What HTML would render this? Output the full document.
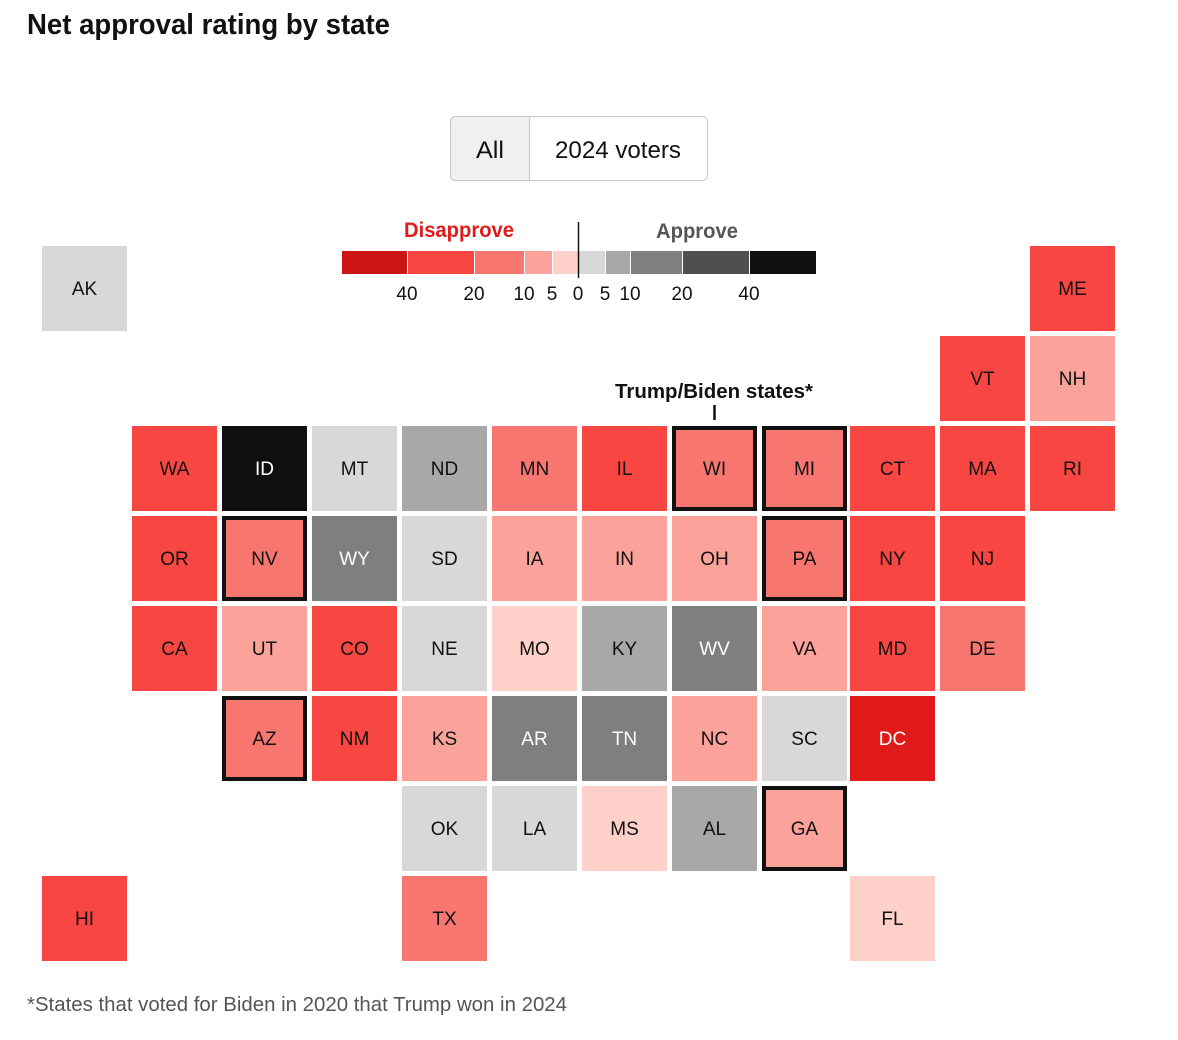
<!DOCTYPE html>
<html><head><meta charset="utf-8"><style>
html,body{margin:0;padding:0;background:#fff;}
svg{display:block;font-family:"Liberation Sans",sans-serif;}
</style></head><body>
<svg id="chart" width="1178" height="1040" viewBox="0 0 1178 1040">
<text x="27" y="34" font-size="29" font-weight="900" fill="#111" textLength="363" lengthAdjust="spacingAndGlyphs">Net approval rating by state</text>
<g>
<rect x="450.5" y="116.5" width="257" height="64" rx="5" fill="#fff" stroke="#c8c8c8"/>
<path d="M455.5 116.5 H529.5 V180.5 H455.5 A5 5 0 0 1 450.5 175.5 V121.5 A5 5 0 0 1 455.5 116.5Z" fill="#f0f0f0" stroke="#c8c8c8"/>
<text x="490" y="158" font-size="24" text-anchor="middle" fill="#111" textLength="28" lengthAdjust="spacingAndGlyphs">All</text>
<text x="618" y="158" font-size="24" text-anchor="middle" fill="#111" textLength="126" lengthAdjust="spacingAndGlyphs">2024 voters</text>
</g>
<g id="legend">
<text x="459" y="237" font-size="21" font-weight="bold" text-anchor="middle" fill="#e01b1b" textLength="110" lengthAdjust="spacingAndGlyphs">Disapprove</text>
<text x="697" y="238" font-size="21" font-weight="bold" text-anchor="middle" fill="#555" textLength="82" lengthAdjust="spacingAndGlyphs">Approve</text>
<line x1="578.5" y1="222" x2="578.5" y2="278" stroke="#111" stroke-width="1.5"/>
</g>
<g id="tiles"></g>
<text x="714" y="398" font-size="20" font-weight="bold" text-anchor="middle" fill="#111" textLength="198" lengthAdjust="spacingAndGlyphs">Trump/Biden states*</text>
<line x1="714.5" y1="405" x2="714.5" y2="420" stroke="#111" stroke-width="2.5"/>
<text x="27" y="1011" font-size="20" fill="#555" textLength="540" lengthAdjust="spacingAndGlyphs">*States that voted for Biden in 2020 that Trump won in 2024</text>
</svg>
<script>
const states = ["AK","ME","VT","NH","WA","ID","MT","ND","MN","IL","WI","MI","CT","MA","RI","OR","NV","WY","SD","IA","IN","OH","PA","NY","NJ","CA","UT","CO","NE","MO","KY","WV","VA","MD","DE","AZ","NM","KS","AR","TN","NC","SC","DC","OK","LA","MS","AL","GA","HI","TX","FL"];
const gridCol = [0,11,10,11,1,2,3,4,5,6,7,8,9,10,11,1,2,3,4,5,6,7,8,9,10,1,2,3,4,5,6,7,8,9,10,2,3,4,5,6,7,8,9,4,5,6,7,8,0,4,9];
const gridRow = [0,0,1,1,2,2,2,2,2,2,2,2,2,2,2,3,3,3,3,3,3,3,3,3,3,4,4,4,4,4,4,4,4,4,4,5,5,5,5,5,5,5,5,6,6,6,6,6,7,7,7];
const netApproval = [2,-25,-25,-7,-25,45,3,7,-15,-25,-14,-13,-25,-25,-25,-25,-14,15,3,-8,-8,-8,-13,-25,-25,-25,-8,-25,3,-3,7,15,-8,-25,-15,-14,-25,-8,15,15,-8,3,-60,3,3,-3,7,-8,-25,-15,-3];
const swingStates = ["WI","MI","NV","PA","AZ","GA"];
const binEdges = [-40,-20,-10,-5,0,5,10,20,40];
const binColors = ["#cc1616","#f84642","#f87670","#fba39b","#fdd0c9","#d8d8d8","#a8a8a8","#7f7f7f","#4f4f4f","#0f0f0f"];
const tickLabels = ["40","20","10","5","0","5","10","20","40"];

const NS="http://www.w3.org/2000/svg";
const colX = [42,132,222,312,402,492,582,672,762,850,940,1030];
const rowY = r => 246 + r*90;
function binOf(v){let i=0;while(i<binEdges.length&&v>=binEdges[i])i++;return i;}
function colorOf(v){ if(v<=-50) return "#e01a1a"; return binColors[binOf(v)]; }
const legX = [342,407,474,524,552,578,605,630,682,749,816];
const legend=document.getElementById('legend');
for(let i=0;i<binColors.length;i++){
  const r=document.createElementNS(NS,'rect');
  r.setAttribute('x',legX[i]+(i?1:0)); r.setAttribute('y',251);
  r.setAttribute('width',legX[i+1]-legX[i]-(i?1:0)); r.setAttribute('height',23);
  r.setAttribute('fill',binColors[i]);
  
  
  legend.insertBefore(r,legend.lastElementChild);
}
tickLabels.forEach((t,i)=>{
  const tx=document.createElementNS(NS,'text');
  tx.setAttribute('x',legX[i+1]); tx.setAttribute('y',300);
  tx.setAttribute('font-size','19'); tx.setAttribute('text-anchor','middle'); tx.setAttribute('fill','#111');
  tx.textContent=t;
  
  
  legend.appendChild(tx);
});
const g=document.getElementById('tiles');
states.forEach((s,i)=>{
  const v=netApproval[i], x=colX[gridCol[i]], y=rowY(gridRow[i]);
  const c=colorOf(v);
  const grp=document.createElementNS(NS,'g');
  
  
  const r=document.createElementNS(NS,'rect');
  const sw=swingStates.includes(s);
  if(sw){r.setAttribute('x',x+2);r.setAttribute('y',y+2);r.setAttribute('width',81);r.setAttribute('height',81);r.setAttribute('stroke','#111');r.setAttribute('stroke-width','4');}
  else{r.setAttribute('x',x);r.setAttribute('y',y);r.setAttribute('width',85);r.setAttribute('height',85);}
  r.setAttribute('fill',c);
  
  
  grp.appendChild(r);
  const t=document.createElementNS(NS,'text');
  t.setAttribute('x',x+42.5); t.setAttribute('y',y+49);
  t.setAttribute('font-size','19'); t.setAttribute('text-anchor','middle');
  const dark = v>=15 || v<=-40;
  t.setAttribute('fill',dark?'#fff':'#111');
  t.textContent=s;
  
  
  grp.appendChild(t);
  g.appendChild(grp);
});
</script>
</body></html>
